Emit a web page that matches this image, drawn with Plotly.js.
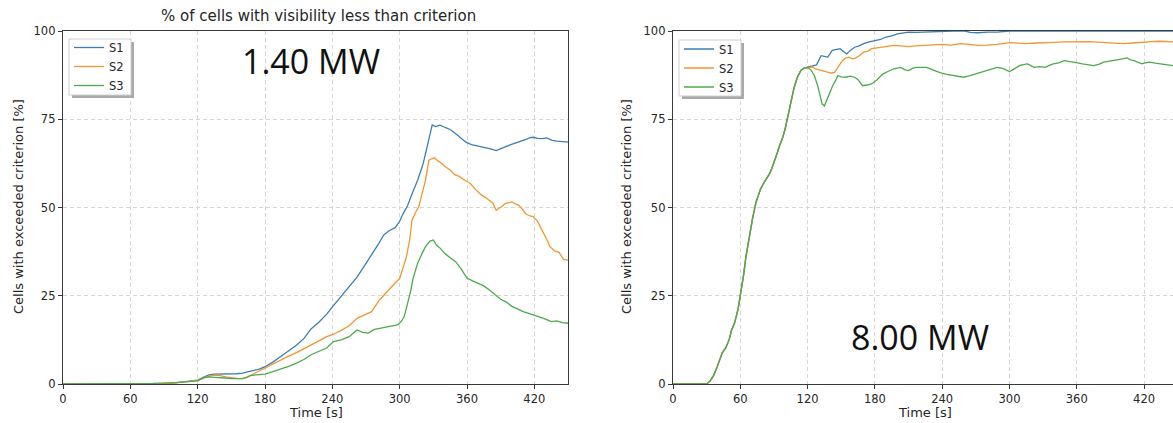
<!DOCTYPE html>
<html>
<head>
<meta charset="utf-8">
<script src="https://cdn.plot.ly/plotly-3.0.1.min.js"></script>
<style>html,body{margin:0;padding:0;background:#fff;}#chart{width:1173px;height:423px;}</style>
</head>
<body>
<div id="chart"></div>
<script>
// ---------- 1.40 MW panel ----------
const lowS1T = [0,60,90,100,110,120,125,130,135,140,147,155,160,167,175,180,187,194,201,208,215,221,228,235,241,248,255,262,268,275,281,286,291,296,300,303,307,311,316,321,326,329,332,336,341,345,350,355,359,364,368,372,376,381,386,390,394,399,403,408,412,416,419,423,427,431,436,440,445,450];
const lowS1V = [0,0,0.1,0.3,0.6,1.1,1.9,2.6,2.8,2.8,2.7,2.9,3.1,3.6,4.2,4.9,6.2,7.8,9.4,11,13,15.6,17.5,19.8,22.2,24.8,27.5,30.3,33.2,36.5,39.6,42.3,43.5,44.3,46.1,48.2,50.5,53.8,57.7,62.5,69.5,73.4,72.9,73.3,72.6,72.1,70.9,69.6,68.5,67.8,67.5,67.3,67.1,66.6,66.1,66.7,67.2,67.8,68.2,68.6,69.2,69.8,69.9,69.6,69.5,69.7,69.0,68.8,68.6,68.5];

const lowS2T = [0,60,90,100,110,120,125,130,135,140,145,150,155,160,165,170,175,180,187,194,201,208,215,221,228,235,241,248,255,262,268,275,282,287,292,296,300,303,306,309,311,314,317,320,323,326,329,331,334,337,341,345,349,353,358,363,368,373,378,383,386,388,391,394,397,400,403,406,409,412,416,419,423,427,431,434,438,442,446,450];
const lowS2V = [0,0,0.1,0.3,0.6,1.0,1.6,2.2,2.5,2.4,2.0,1.7,1.6,1.5,2.0,2.9,3.7,4.5,5.8,6.9,7.9,8.9,10.0,11.1,12.2,13.4,14.1,15.2,16.5,18.6,19.5,20.5,23.8,25.5,27.5,28.6,29.9,33,36,41,46.4,48.5,50.2,54,57.7,63.4,63.9,64.1,63.2,62.6,61.5,60.6,59.3,58.8,57.7,56.8,55.0,53.5,52.5,51.3,49.2,49.6,50.3,51.1,51.4,51.6,51.0,50.7,49.6,48.3,47.6,47.4,46.0,43.6,41.0,38.9,37.7,37.3,35.3,35.1];

const lowS3T = [0,60,80,100,110,120,126,130,135,140,145,150,155,160,163,167,172,176,180,187,194,201,208,215,221,228,235,241,248,255,262,267,272,277,282,287,292,296,299,302,304,306,308,310,312,316,320,323,327,330,333,336,340,345,350,355,360,365,370,375,380,385,390,395,400,405,410,415,420,425,430,435,440,445,450];
const lowS3V = [0,0,0.2,0.4,0.6,0.9,1.9,2.0,1.9,1.9,1.7,1.5,1.5,1.5,1.8,2.4,2.6,2.7,2.8,3.5,4.2,5.0,5.9,7.0,8.3,9.2,10.2,12.0,12.5,13.4,15.3,14.6,14.4,15.4,15.8,16.2,16.4,16.6,16.9,18.0,19.1,21.5,23.8,26.6,30,34.2,37,38.9,40.5,40.8,39.3,38.5,37.0,35.8,34.6,32.5,30.0,29.2,28.6,27.8,26.6,25.4,24.0,23.2,22.0,21.3,20.5,20.0,19.5,19.0,18.4,17.7,17.9,17.4,17.2];

// ---------- 8.00 MW panel ----------
const highEarlyT = [0,20,30,33,36,39,41,44,47,50,52,55,58,60,63,65,68,71,74,78,81,83,86,88,91,93,95,98,100,102,105,108,111,114,117];
const highEarlyV = [0,0,0,0.8,2.3,4.5,6.1,8.9,10.2,12.5,15,17.4,21.2,25,31,36,42,47,51.5,55.2,57,58,59.5,61,63.5,65.5,67.5,70,72.3,75,79.5,84,87,88.8,89.5];

const highS1TailT = [120,125,128,132,135,138,142,146,149,152,155,158,162,166,170,175,180,185,190,195,200,205,210,217,223,230,240,250,260,265,272,280,289,300,320,340,360,380,400,420,446];
const highS1TailV = [89.7,90.2,90.4,93,92.8,92.6,94.5,94.8,95,94.2,93.5,94.5,95.4,95.8,96.4,96.9,97.3,97.6,98.3,98.6,99.2,99.4,99.7,99.6,99.7,99.8,99.9,100,100,99.6,99.5,99.7,99.7,100,100,100,100,100,100,100,100];

const highS2TailT = [120,124,127,131,134,138,141,144,148,151,154,157,160,163,166,170,174,177,182,187,192,197,203,210,216,223,230,240,248,256,264,272,280,289,300,308,315,324,332,340,348,356,365,370,375,382,388,395,401,410,420,427,434,440,446];
const highS2TailV = [89.7,89.8,89.3,89.0,88.8,88.5,88.1,88.3,90.0,91.6,92.3,92.6,92.1,92.4,93.0,94.0,94.3,95.0,95.2,95.4,95.6,95.9,95.8,95.6,95.8,95.9,96.0,96.2,96.0,96.4,96.2,95.9,96.0,96.2,96.7,96.5,96.4,96.6,96.6,96.8,96.9,97.0,97.1,97.0,96.9,96.8,96.7,96.5,96.4,96.6,96.9,97.0,97.1,96.9,96.9];

const highS3TailT = [120,123,126,129,131,133,135,137,140,142,145,147,150,154,158,162,165,169,173,177,182,187,192,197,203,207,210,214,217,222,226,230,233,238,243,248,253,259,264,269,274,279,284,289,294,300,305,309,312,316,319,322,327,332,335,339,344,349,354,358,362,365,370,375,380,384,388,393,398,401,405,408,411,415,418,421,425,430,434,439,446];
const highS3TailV = [89.7,89.0,87.4,84.5,81.7,79.3,78.8,80.5,82.5,84.2,86.0,87.4,87.0,86.9,87.2,86.9,86.2,84.5,84.7,85.0,86.2,87.8,88.6,89.3,89.7,89.0,88.8,89.5,89.7,89.6,89.7,89.2,88.8,88.2,87.8,87.5,87.2,86.9,87.3,87.8,88.3,88.8,89.2,89.7,89.4,88.5,89.4,90.2,90.5,90.7,90.2,89.7,89.9,89.7,90.2,90.7,91.0,91.6,91.3,91.2,90.9,90.7,90.4,90.2,90.6,91.2,91.4,91.6,91.9,92.1,92.4,91.8,91.6,91.1,90.7,91.0,91.2,90.9,90.7,90.5,90.2];

const seriesNames = ['S1','S2','S3'];
const seriesColors = ['#3d7db5','#f39530','#4ea94e'];
const xTickVals = [0,60,120,180,240,300,360,420];
const yTickVals = [0,25,50,75,100];
const panelLabels = ['1.40 MW','8.00 MW'];
const chartTitle = '% of cells with visibility less than criterion';
const yTitle = 'Cells with exceeded criterion [%]';
const xTitle = 'Time [s]';

const lowT = [lowS1T, lowS2T, lowS3T];
const lowV = [lowS1V, lowS2V, lowS3V];
const highT = [highEarlyT.concat(highS1TailT), highEarlyT.concat(highS2TailT), highEarlyT.concat(highS3TailT)];
const highV = [highEarlyV.concat(highS1TailV), highEarlyV.concat(highS2TailV), highEarlyV.concat(highS3TailV)];

const traces = [];
for (let i = 0; i < 3; i++) {
  traces.push({x: lowT[i], y: lowV[i], type: 'scatter', mode: 'lines', name: seriesNames[i],
    line: {color: seriesColors[i], width: 1.3}, xaxis: 'x', yaxis: 'y', legend: 'legend'});
}
for (let i = 0; i < 3; i++) {
  traces.push({x: highT[i], y: highV[i], type: 'scatter', mode: 'lines', name: seriesNames[i],
    line: {color: seriesColors[i], width: 1.3}, xaxis: 'x2', yaxis: 'y2', legend: 'legend2'});
}

const W = 1173, H = 423, ML = 63, MR = 0, MT = 31, MB = 39;
const PW = W - ML - MR, PH = H - MT - MB;
const px = v => (v - ML) / PW;
const py = v => (H - MB - v) / PH;

const FONT = 'DejaVu Sans, sans-serif';
const tickFont = {family: FONT, size: 11.5, color: '#262626'};
const axCommon = {
  showline: true, linecolor: '#3a3a3a', linewidth: 1.2,
  ticks: 'outside', ticklen: 4, tickwidth: 1, tickcolor: '#3a3a3a',
  showgrid: true, gridcolor: '#d6d6d6', gridwidth: 1, griddash: '4px,3px',
  zeroline: false, tickfont: tickFont, fixedrange: true
};

const legendCommon = {
  xanchor: 'left', yanchor: 'top', bgcolor: 'rgba(0,0,0,0)', borderwidth: 0,
  font: {family: FONT, size: 11.5, color: '#262626'}, itemwidth: 30, tracegroupgap: 0
};

// legend frame boxes (pixel rectangles) with drop shadow, like the matplotlib legend
const legendBoxes = [[69, 39, 131, 95], [679, 40, 741, 96]];
const shapes = [];
legendBoxes.forEach(b => {
  shapes.push({type: 'rect', xref: 'paper', yref: 'paper', x0: px(b[0] + 3), x1: px(b[2] + 3), y0: py(b[3] + 3), y1: py(b[1] + 3),
    fillcolor: '#a9a9a9', line: {width: 0}, layer: 'above'});
  shapes.push({type: 'rect', xref: 'paper', yref: 'paper', x0: px(b[0]), x1: px(b[2]), y0: py(b[3]), y1: py(b[1]),
    fillcolor: '#ffffff', line: {color: '#cfcfcf', width: 1}, layer: 'above'});
});

const layout = {
  width: W, height: H,
  margin: {l: ML, r: MR, t: MT, b: MB, pad: 0},
  paper_bgcolor: '#ffffff', plot_bgcolor: '#ffffff',
  showlegend: true,
  xaxis: Object.assign({}, axCommon, {domain: [0, px(568)], range: [0, 450], tickvals: xTickVals, mirror: true, anchor: 'y'}),
  yaxis: Object.assign({}, axCommon, {domain: [0, 1], range: [0, 100], tickvals: yTickVals, mirror: true, anchor: 'x'}),
  xaxis2: Object.assign({}, axCommon, {domain: [px(673), 1], range: [0, 445.8], tickvals: xTickVals, mirror: true, anchor: 'y2'}),
  yaxis2: Object.assign({}, axCommon, {domain: [0, 1], range: [0, 100], tickvals: yTickVals, mirror: false, anchor: 'x2'}),
  legend: Object.assign({}, legendCommon, {x: px(69), y: py(33)}),
  legend2: Object.assign({}, legendCommon, {x: px(679), y: py(34.5)}),
  annotations: [
    {text: chartTitle, xref: 'x domain', yref: 'paper', x: 0.505, y: py(16), xanchor: 'center', yanchor: 'middle', showarrow: false,
     font: {family: FONT, size: 15, color: '#262626'}},
    {text: yTitle, xref: 'paper', yref: 'paper', x: px(18), y: py(207), textangle: -90, xanchor: 'center', yanchor: 'middle', showarrow: false,
     font: {family: FONT, size: 13, color: '#262626'}},
    {text: yTitle, xref: 'paper', yref: 'paper', x: px(626), y: py(207), textangle: -90, xanchor: 'center', yanchor: 'middle', showarrow: false,
     font: {family: FONT, size: 13, color: '#262626'}},
    {text: xTitle, xref: 'x', yref: 'paper', x: 225, y: py(412), xanchor: 'center', yanchor: 'middle', showarrow: false,
     font: {family: FONT, size: 13, color: '#262626'}},
    {text: xTitle, xref: 'x2', yref: 'paper', x: 225, y: py(412), xanchor: 'center', yanchor: 'middle', showarrow: false,
     font: {family: FONT, size: 13, color: '#262626'}},
    {text: panelLabels[0], xref: 'paper', yref: 'paper', x: px(311), y: py(61), xanchor: 'center', yanchor: 'middle', showarrow: false,
     font: {family: 'Open Sans, sans-serif', size: 34, color: '#111111'}},
    {text: panelLabels[1], xref: 'paper', yref: 'paper', x: px(920), y: py(337), xanchor: 'center', yanchor: 'middle', showarrow: false,
     font: {family: 'Open Sans, sans-serif', size: 34, color: '#111111'}}
  ],
  shapes: shapes
};

Plotly.newPlot('chart', traces, layout, {displayModeBar: false, staticPlot: true});
</script>
</body>
</html>
